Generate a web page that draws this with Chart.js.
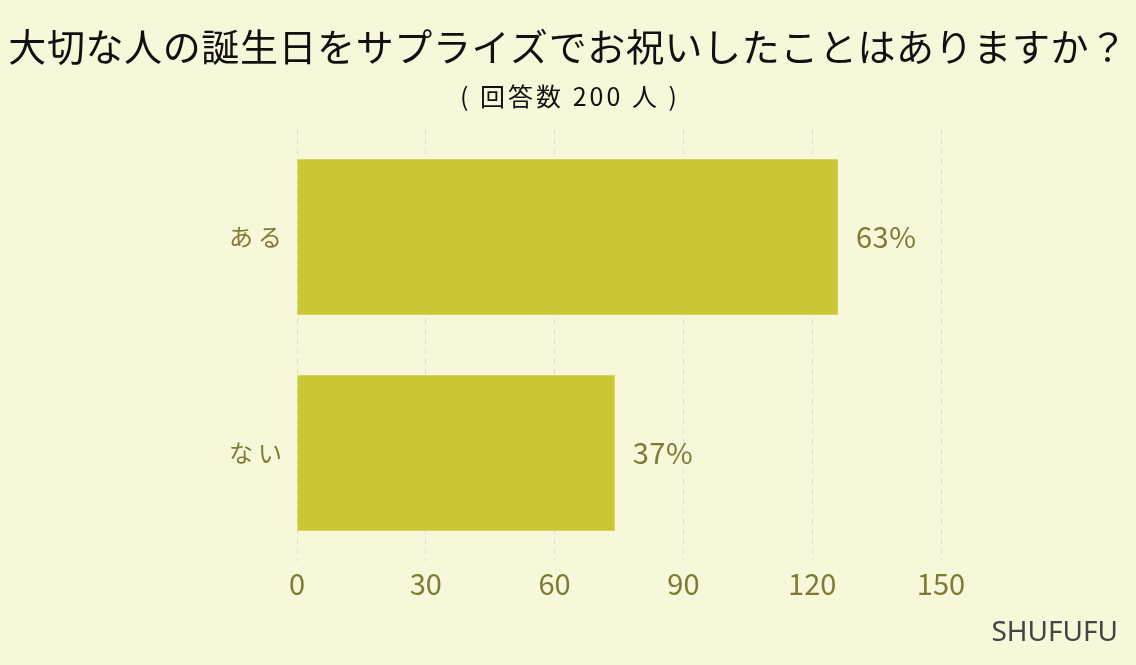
<!DOCTYPE html>
<html>
<head>
<meta charset="utf-8">
<script src="https://cdn.jsdelivr.net/npm/chart.js@4"></script>
<style>
  html, body { margin: 0; padding: 0; background: #f7f7da; }
  #wrap { width: 1136px; height: 665px; position: relative; }
</style>
</head>
<body>
<div id="wrap"><canvas id="chart"></canvas></div>
<script>
// data
var categories = ["ある", "ない"];
var counts = [126, 74];
var percentLabels = ["63%", "37%"];
var xTicks = [0, 30, 60, 90, 120, 150];
var titleText = "大切な人の誕生日をサプライズでお祝いしたことはありますか？";
var subtitleText = "( 回答数 200 人 )";
var creditText = "SHUFUFU";

var JP = "'Noto Sans CJK JP', 'Noto Sans', sans-serif";
var olive = "#7f7b35";

// draws the heading, category names, value labels and the credit
var textPlugin = {
	id: "textPlugin",
	afterDraw: function(chart) {
		var ctx = chart.ctx;
		var w = chart.width;
		ctx.save();
		ctx.fillStyle = "#111";
		ctx.textAlign = "center";
		ctx.textBaseline = "middle";
		ctx.font = "38px " + JP;
		ctx.letterSpacing = "0.6px";
		ctx.fillText(titleText, w / 2, 47);
		ctx.font = "25px " + JP;
		ctx.letterSpacing = "3px";
		ctx.fillText(subtitleText, w / 2 + 2, 96);

		//category names, spaced out like the original
		var yScale = chart.scales.y;
		ctx.fillStyle = olive;
		ctx.textAlign = "right";
		ctx.font = "24px " + JP;
		ctx.letterSpacing = "5px";
		categories.forEach(function(c, i) {
			ctx.fillText(c, yScale.right - 10, yScale.getPixelForValue(i));
		});

		//value labels next to the bars
		var meta = chart.getDatasetMeta(0);
		ctx.textAlign = "left";
		ctx.font = "29px " + JP;
		ctx.letterSpacing = "0.5px";
		meta.data.forEach(function(bar, i) {
			ctx.fillText(percentLabels[i], bar.x + 18, bar.y);
		});

		ctx.fillStyle = "#444";
		ctx.textAlign = "right";
		ctx.letterSpacing = "0px";
		ctx.font = "28px 'Noto Sans', sans-serif";
		ctx.fillText(creditText, w - 18, 633);
		ctx.restore();
	}
};

new Chart(document.getElementById("chart"), {
	type: "bar",
	data: {
		labels: categories,
		datasets: [{
			data: counts,
			backgroundColor: "#cbc635",
			borderWidth: 0,
			categoryPercentage: 0.72,
			barPercentage: 1
		}]
	},
	options: {
		indexAxis: "y",
		responsive: true,
		maintainAspectRatio: false,
		animation: false,
		layout: { padding: { top: 129, right: 195, bottom: 44, left: 0 } },
		plugins: {
			legend: { display: false },
			tooltip: { enabled: false },
			title: { display: false }
		},
		scales: {
			x: {
				min: 0,
				max: 150,
				afterBuildTicks: function(axis) {
					axis.ticks = xTicks.map(function(v) { return { value: v }; });
				},
				afterFit: function(axis) { axis.height = 60; },
				border: { display: false, dash: [5, 5] },
				grid: { color: "#dcdcc6", lineWidth: 1, drawTicks: false },
				ticks: { color: olive, font: { size: 29, family: JP }, padding: 6 }
			},
			y: {
				afterFit: function(axis) { axis.width = 297; },
				border: { display: false },
				grid: { display: false },
				ticks: { display: false }
			}
		}
	},
	plugins: [textPlugin]
});
</script>
</body>
</html>
